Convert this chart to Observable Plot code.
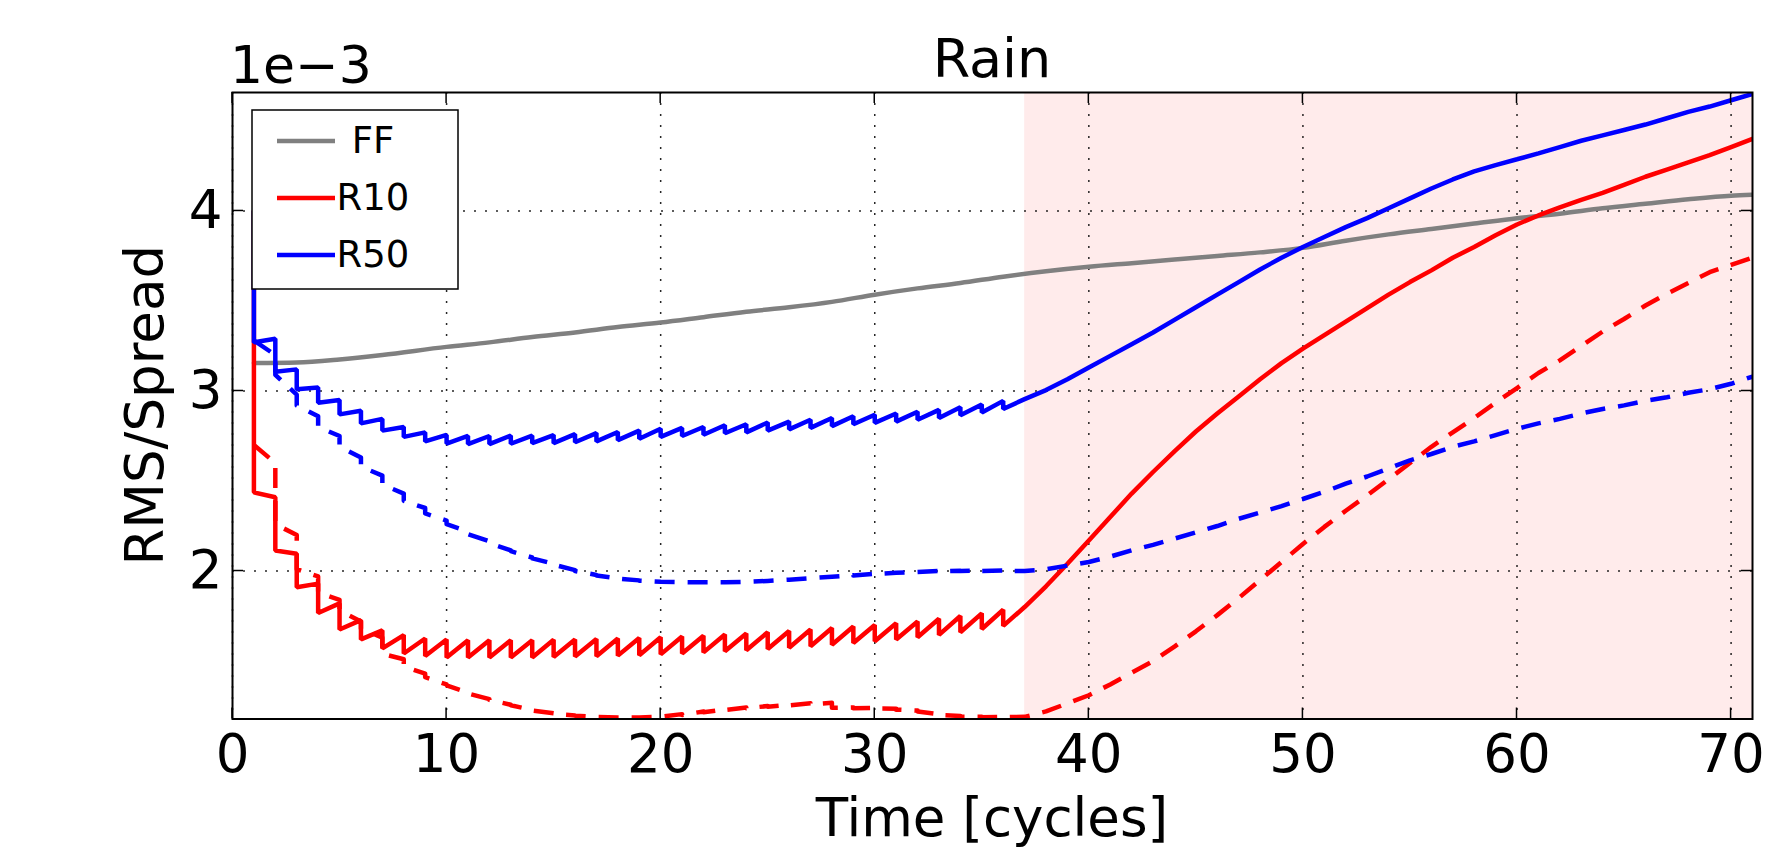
<!DOCTYPE html>
<html><head><meta charset="utf-8">
<script src="https://cdn.jsdelivr.net/npm/d3@7"></script>
<script src="https://cdn.jsdelivr.net/npm/@observablehq/plot@0.6"></script>
<style>html,body{margin:0;padding:0;background:#fff;} svg{display:block}</style>
</head><body><div id="chart"></div>
<script>
// ---------- data (values in units of 1e-3) ----------
const xTicks = [0, 10, 20, 30, 40, 50, 60, 70];
const yTicks = [2, 3, 4];
const xDomain = [0, 71];
const yDomain = [1.178, 4.658];
const shadeStart = [37];
const shadeEnd = [71];
const seriesNames = ["FF", "R10", "R50"];
const seriesColors = ["#808080", "#ff0000", "#0000ff"];

// assimilation cycles and free-forecast times
const assimTimes = [1,2,3,4,5,6,7,8,9,10,11,12,13,14,15,16,17,18,19,20,21,22,23,24,25,26,27,28,29,30,31,32,33,34,35,36];
const freeTimes = [37,38,39,40,41,42,43,44,45,46,47,48,49,50,51,52,53,54,55,56,57,58,59,60,61,62,63,64,65,66,67,68,69,70,71];

// FF (free forecast, no assimilation)
const ffTimes = [1,3,5,7,10,12,14,16,18,20,22,24,26,28,30,32,34,36,38,40,42,44,46,48,50,52,54,56,58,60,62,64,66,68,70,71];
const ffValues = [3.155,3.158,3.175,3.20,3.245,3.27,3.30,3.325,3.355,3.38,3.41,3.44,3.465,3.495,3.535,3.57,3.60,3.635,3.665,3.69,3.71,3.73,3.75,3.77,3.795,3.835,3.87,3.90,3.93,3.96,3.985,4.015,4.04,4.065,4.085,4.09];

// R10 RMS (solid): value before analysis (forecast) and after analysis at each cycle
const r10Fc = [4.00,2.41,2.096,1.93,1.82,1.727,1.67,1.644,1.625,1.62,1.616,1.616,1.616,1.615,1.618,1.62,1.622,1.625,1.628,1.632,1.636,1.641,1.647,1.653,1.66,1.667,1.675,1.683,1.692,1.70,1.71,1.72,1.735,1.75,1.765,1.785];
const r10An = [2.437,2.114,1.91,1.767,1.675,1.62,1.57,1.542,1.528,1.52,1.52,1.52,1.52,1.52,1.522,1.525,1.527,1.53,1.532,1.537,1.542,1.548,1.554,1.56,1.567,1.574,1.582,1.59,1.60,1.61,1.62,1.632,1.645,1.66,1.678,1.695];
const r10Free = [1.80,1.915,2.04,2.17,2.30,2.43,2.55,2.665,2.775,2.875,2.97,3.065,3.155,3.235,3.31,3.385,3.46,3.535,3.605,3.67,3.74,3.80,3.865,3.925,3.975,4.02,4.062,4.10,4.145,4.19,4.23,4.27,4.31,4.355,4.40];

// R50 RMS (solid)
const r50Fc = [4.00,3.29,3.12,3.02,2.95,2.89,2.845,2.80,2.77,2.756,2.75,2.75,2.752,2.752,2.755,2.76,2.766,2.772,2.78,2.79,2.795,2.80,2.81,2.815,2.825,2.83,2.84,2.85,2.86,2.868,2.875,2.885,2.895,2.91,2.925,2.945];
const r50An = [3.27,3.107,3.01,2.935,2.87,2.82,2.78,2.745,2.72,2.708,2.705,2.705,2.707,2.71,2.71,2.715,2.72,2.727,2.735,2.745,2.75,2.757,2.765,2.77,2.78,2.787,2.795,2.805,2.815,2.823,2.83,2.84,2.85,2.865,2.88,2.90];
const r50Free = [2.955,3.005,3.065,3.13,3.195,3.26,3.325,3.395,3.465,3.535,3.605,3.675,3.74,3.80,3.855,3.91,3.96,4.015,4.07,4.125,4.175,4.22,4.255,4.287,4.32,4.355,4.39,4.42,4.45,4.48,4.515,4.55,4.58,4.615,4.65];

// R10 spread (dashed)
const r10sFc = [null,2.60,2.20,1.97,1.84,1.72,1.63,1.51,1.43,1.37,1.325,1.288,1.257,1.228,1.21,1.198,1.19,1.187,1.187,1.19,1.205,1.22,1.232,1.242,1.25,1.258,1.265,1.268,1.242,1.24,1.235,1.225,1.205,1.195,1.19,1.19];
const r10sAn = [2.70,2.26,2.01,1.88,1.78,1.68,1.54,1.47,1.41,1.365,1.32,1.284,1.254,1.225,1.207,1.196,1.19,1.187,1.187,1.19,1.20,1.215,1.228,1.238,1.246,1.254,1.26,1.24,1.238,1.236,1.23,1.22,1.20,1.19,1.188,1.188];
const r10sFree = [1.19,1.22,1.265,1.31,1.37,1.435,1.50,1.58,1.665,1.755,1.85,1.95,2.05,2.15,2.245,2.335,2.42,2.51,2.60,2.69,2.77,2.85,2.935,3.016,3.10,3.17,3.25,3.33,3.40,3.475,3.54,3.60,3.66,3.70,3.74];

// R50 spread (dashed)
const r50sFc = [null,3.20,2.98,2.86,2.75,2.63,2.53,2.43,2.35,2.28,2.22,2.165,2.115,2.075,2.04,2.005,1.978,1.96,1.948,1.94,1.938,1.937,1.937,1.94,1.945,1.952,1.96,1.968,1.977,1.985,1.99,1.995,2.0,2.002,2.003,2.003];
const r50sAn = [3.28,3.09,2.92,2.80,2.69,2.58,2.48,2.39,2.32,2.26,2.205,2.155,2.11,2.07,2.035,2.0,1.975,1.958,1.946,1.94,1.938,1.937,1.937,1.94,1.945,1.952,1.96,1.968,1.975,1.983,1.99,1.995,1.998,2.0,2.0,2.0];
const r50sFree = [2.0,2.01,2.03,2.05,2.08,2.115,2.145,2.18,2.215,2.25,2.29,2.325,2.36,2.40,2.44,2.485,2.525,2.57,2.615,2.65,2.69,2.72,2.755,2.79,2.82,2.845,2.875,2.90,2.92,2.945,2.965,2.99,3.01,3.04,3.08];

(function () {
  function cyclePath(fc, an, free) {
    const pts = [];
    assimTimes.forEach((t, i) => {
      if (fc[i] !== null) pts.push({t, v: fc[i]});
      pts.push({t, v: an[i]});
    });
    freeTimes.forEach((t, i) => pts.push({t, v: free[i]}));
    return pts;
  }
  const ffData = ffTimes.map((t, i) => ({t, v: ffValues[i]}));
  const r10Data = cyclePath(r10Fc, r10An, r10Free);
  const r50Data = cyclePath(r50Fc, r50An, r50Free);
  const r10sData = cyclePath(r10sFc, r10sAn, r10sFree);
  const r50sData = cyclePath(r50sFc, r50sAn, r50sFree);
  const shade = shadeStart.map((s, i) => ({start: s, end: shadeEnd[i]}));

  const FONT = "DejaVu Sans";
  const lw = 4.5;
  const dash = "20,13";

  const plot = Plot.plot({
    width: 1767, height: 855,
    marginLeft: 232, marginRight: 15, marginTop: 92, marginBottom: 136.5,
    x: {domain: xDomain},
    y: {domain: yDomain},
    style: {fontFamily: FONT, color: "black", background: "white", overflow: "visible"},
    marks: [
      Plot.rect(shade, {x1: "start", x2: "end", fill: "#ff0000", fillOpacity: 0.08}),
      Plot.gridX(xTicks, {stroke: "black", strokeOpacity: 0.85, strokeWidth: 1.5, strokeDasharray: "2,9"}),
      Plot.gridY(yTicks, {stroke: "black", strokeOpacity: 0.85, strokeWidth: 1.5, strokeDasharray: "2,9"}),
      Plot.line(ffData, {x: "t", y: "v", stroke: seriesColors[0], strokeWidth: lw, curve: "monotone-x", clip: true}),
      Plot.line(r10Data, {x: "t", y: "v", stroke: seriesColors[1], strokeWidth: lw, strokeLinejoin: "miter", clip: true}),
      Plot.line(r50Data, {x: "t", y: "v", stroke: seriesColors[2], strokeWidth: lw, strokeLinejoin: "miter", clip: true}),
      Plot.line(r10sData, {x: "t", y: "v", stroke: seriesColors[1], strokeWidth: lw, strokeDasharray: dash, strokeLinecap: "butt", clip: true}),
      Plot.line(r50sData, {x: "t", y: "v", stroke: seriesColors[2], strokeWidth: lw, strokeDasharray: dash, strokeLinecap: "butt", clip: true}),
      Plot.axisX(xTicks, {tickSize: 0, tickPadding: 15, fontSize: 53, label: null, tickFormat: d => String(d)}),
      Plot.axisY(yTicks, {tickSize: 0, tickPadding: 10, fontSize: 53, label: null, tickFormat: d => String(d)}),
      Plot.frame({stroke: "black", strokeWidth: 2})
    ]
  });

  document.getElementById("chart").appendChild(plot);

  // ---------- decorations: inward ticks, titles, legend ----------
  const svg = d3.select(plot);
  const xs = plot.scale("x"), ys = plot.scale("y");
  const fLeft = xs.apply(xDomain[0]), fRight = xs.apply(xDomain[1]);
  const fTop = ys.apply(yDomain[1]), fBottom = ys.apply(yDomain[0]);
  const tl = 11;
  const tg = svg.append("g").attr("stroke", "black").attr("stroke-width", 1.5);
  xTicks.forEach(v => {
    const x = xs.apply(v);
    tg.append("line").attr("x1", x).attr("x2", x).attr("y1", fBottom).attr("y2", fBottom - tl);
    tg.append("line").attr("x1", x).attr("x2", x).attr("y1", fTop).attr("y2", fTop + tl);
  });
  yTicks.forEach(v => {
    const y = ys.apply(v);
    tg.append("line").attr("x1", fLeft).attr("x2", fLeft + tl).attr("y1", y).attr("y2", y);
    tg.append("line").attr("x1", fRight).attr("x2", fRight - tl).attr("y1", y).attr("y2", y);
  });

  const txt = (x, y, s, size, anchor) => svg.append("text").attr("x", x).attr("y", y)
    .attr("font-family", FONT).attr("font-size", size).attr("fill", "black")
    .attr("text-anchor", anchor).text(s);

  txt((fLeft + fRight) / 2, 77, "Rain", 54, "middle");
  txt(fLeft - 2, 83, "1e\u22123", 52, "start");
  txt((fLeft + fRight) / 2, 836, "Time [cycles]", 53, "middle");
  svg.append("text").attr("transform", `translate(163,${(fTop + fBottom) / 2}) rotate(-90)`)
    .attr("font-family", FONT).attr("font-size", 53).attr("fill", "black")
    .attr("text-anchor", "middle").text("RMS/Spread");

  // legend
  const lg = svg.append("g");
  lg.append("rect").attr("x", 252).attr("y", 110).attr("width", 206).attr("height", 179)
    .attr("fill", "white").attr("stroke", "black").attr("stroke-width", 1.5);
  seriesNames.forEach((name, i) => {
    const y = 153 + i * 57;
    lg.append("line").attr("x1", 277).attr("x2", 335).attr("y1", y - 12).attr("y2", y - 12)
      .attr("stroke", seriesColors[i]).attr("stroke-width", lw);
    lg.append("text").attr("x", 373).attr("y", y).attr("font-family", FONT)
      .attr("font-size", 37).attr("fill", "black").text(name);
  });
})();
</script></body></html>
